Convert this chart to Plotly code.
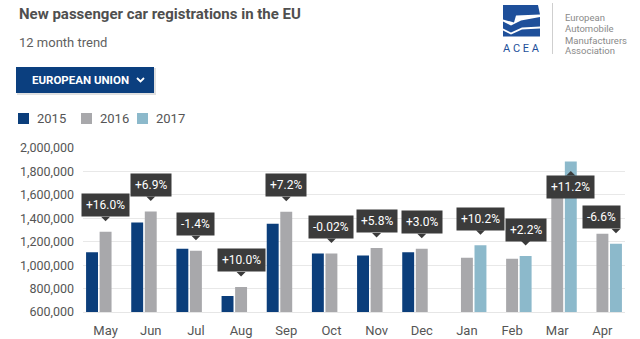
import plotly.graph_objects as go

# ---------------- data ----------------
months = ["May", "Jun", "Jul", "Aug", "Sep", "Oct", "Nov", "Dec", "Jan", "Feb", "Mar", "Apr"]
y2015 = [1109000, 1363000, 1140000, 737000, 1354000, 1100000, 1083000, 1109000, None, None, None, None]
y2016 = [1285000, 1457000, 1123000, 814000, 1455000, 1100000, 1147000, 1141000, 1063000, 1054000, 1695000, 1268000]
y2017 = [None, None, None, None, None, None, None, None, 1170000, 1077000, 1885000, 1183000]
changes = ["+16.0%", "+6.9%", "-1.4%", "+10.0%", "+7.2%", "-0.02%", "+5.8%", "+3.0%",
           "+10.2%", "+2.2%", "+11.2%", "-6.6%"]
series_names = ["2015", "2016", "2017"]
series_colors = ["#0b3e7b", "#a8a8ab", "#8cb9cb"]
y_ticks = [600000, 800000, 1000000, 1200000, 1400000, 1600000, 1800000, 2000000]

# ---------------- layout geometry (pixels) ----------------
FW, FH = 640, 339
L, R, T, B = 83, 625, 148, 312
W, H = R - L, B - T
BARGAP, GROUPGAP = 0.1, 0.12
FONT = "Roboto"
TIP = "#3b3b3b"


def px(x):
    return (x - L) / W


def py(y):
    return (B - y) / H


def ppath(points, close=True):
    s = "M" + " L".join(f"{px(x):.5f},{py(y):.5f}" for x, y in points)
    return s + (" Z" if close else "")


fig = go.Figure()
series = [y2015, y2016, y2017]
xs = list(range(len(months)))
for name, vals, col in zip(series_names, series, series_colors):
    fig.add_trace(go.Bar(x=xs, y=vals, name=name, marker=dict(color=col, line=dict(width=0)),
                         showlegend=False, hoverinfo="skip"))

shapes = []
annotations = []

# ---------------- tooltips on the latest-year bar ----------------
slot = (1 - BARGAP) / 3
unit_px = W / len(months)
for i, m in enumerate(months):
    k = 2 if y2017[i] is not None else 1
    v = series[k][i]
    xb = i + (k - 1) * slot
    xb_px = L + (xb + 0.5) * unit_px
    est_w = len(changes[i]) * 6.7 + 9
    flip = (v - 600000) / 1400000 * H + 11 + 3.5 + 21 > H
    xshift = 0
    if xb_px + est_w / 2 > R - 2:
        xshift = (R - 2) - (xb_px + est_w / 2)
    if not flip:
        annotations.append(dict(x=xb, y=v, xref="x", yref="y", text=changes[i], showarrow=False,
                                yanchor="bottom", xanchor="center", yshift=14.5, xshift=xshift,
                                bgcolor=TIP, borderpad=4,
                                font=dict(family=FONT, size=12, color="#ffffff")))
        shapes.append(dict(type="path", xref="x", yref="y", xsizemode="pixel", ysizemode="pixel",
                           xanchor=xb, yanchor=v, path="M-4.5,15 L4.5,15 L0,10.5 Z",
                           fillcolor=TIP, line=dict(width=0), layer="above"))
    else:
        annotations.append(dict(x=xb, y=v, xref="x", yref="y", text=changes[i], showarrow=False,
                                yanchor="top", xanchor="center", yshift=-13.5, xshift=xshift,
                                bgcolor=TIP, borderpad=4,
                                font=dict(family=FONT, size=12, color="#ffffff")))
        shapes.append(dict(type="path", xref="x", yref="y", xsizemode="pixel", ysizemode="pixel",
                           xanchor=xb, yanchor=v, path="M-4.5,-14 L4.5,-14 L0,-9.5 Z",
                           fillcolor=TIP, line=dict(width=0), layer="above"))

# ---------------- header ----------------
annotations.append(dict(x=px(17), y=py(14), xref="paper", yref="paper", xanchor="left", yanchor="middle",
                        text="<b>New passenger car registrations in the EU</b>", showarrow=False,
                        font=dict(family=FONT, size=15, color="#4f4f4f")))
annotations.append(dict(x=px(17), y=py(42), xref="paper", yref="paper", xanchor="left", yanchor="middle",
                        text="12 month trend", showarrow=False,
                        font=dict(family=FONT, size=13, color="#5f5f5f")))

# dropdown button
shapes.append(dict(type="rect", xref="paper", yref="paper", x0=px(17), x1=px(156), y0=py(95), y1=py(68),
                   fillcolor="rgba(0,0,0,0.12)", line=dict(width=0)))
shapes.append(dict(type="rect", xref="paper", yref="paper", x0=px(16), x1=px(154), y0=py(93), y1=py(67),
                   fillcolor="#0b3f7f", line=dict(width=0)))
annotations.append(dict(x=px(30), y=py(80), xref="paper", yref="paper", xanchor="left", yanchor="middle",
                        text="<b>EUROPEAN UNION</b>", showarrow=False,
                        font=dict(family=FONT, size=11.5, color="#ffffff")))
shapes.append(dict(type="path", xref="paper", yref="paper",
                   path=ppath([(137, 78), (140.5, 81.5), (144, 78)], close=False),
                   line=dict(color="#ffffff", width=1.8)))

# custom legend
leg_x = [18, 81, 137]
for name, col, x0 in zip(series_names, series_colors, leg_x):
    shapes.append(dict(type="rect", xref="paper", yref="paper", x0=px(x0), x1=px(x0 + 11),
                       y0=py(124), y1=py(113), fillcolor=col, line=dict(width=0)))
    annotations.append(dict(x=px(x0 + 17), y=py(118.5), xref="paper", yref="paper", xanchor="left",
                            yanchor="middle", text=name, showarrow=False,
                            font=dict(family=FONT, size=13, color="#555555")))

# ---------------- ACEA logo ----------------
blue = "#1e4f9a"
shapes.append(dict(type="path", xref="paper", yref="paper",
                   path=ppath([(503, 5), (538, 5), (540, 14.5), (516, 15.5), (514, 22.5), (503, 19.5)]),
                   fillcolor=blue, line=dict(width=0)))
shapes.append(dict(type="path", xref="paper", yref="paper",
                   path=ppath([(503, 21.5), (511, 25.5), (521, 20.5), (540, 17), (540, 26.5), (522, 27.5),
                               (511, 32.5), (503, 28.5)]),
                   fillcolor=blue, line=dict(width=0)))
shapes.append(dict(type="path", xref="paper", yref="paper",
                   path=ppath([(503, 30.5), (511, 34.5), (522, 29.5), (540, 28.5), (540, 36.5), (503, 36.5)]),
                   fillcolor=blue, line=dict(width=0)))
annotations.append(dict(x=px(521.5), y=py(48.5), xref="paper", yref="paper", xanchor="center",
                        yanchor="middle", text="A C E A", showarrow=False,
                        font=dict(family=FONT, size=11, color=blue)))
shapes.append(dict(type="line", xref="paper", yref="paper", x0=px(552.5), x1=px(552.5), y0=py(3), y1=py(54),
                   line=dict(color="#cfcfcf", width=1)))
for txt, yy in zip(["European", "Automobile", "Manufacturers", "Association"], [17, 28.5, 40, 51]):
    annotations.append(dict(x=px(563), y=py(yy), xref="paper", yref="paper", xanchor="left",
                            yanchor="middle", text=txt, showarrow=False,
                            font=dict(family=FONT, size=9.5, color="#8a8a8a")))

fig.update_layout(
    width=FW, height=FH,
    margin=dict(l=L, r=FW - R, t=T, b=FH - B, pad=0, autoexpand=False),
    paper_bgcolor="#ffffff", plot_bgcolor="#ffffff",
    barmode="group", bargap=BARGAP, bargroupgap=GROUPGAP,
    showlegend=False,
    shapes=shapes, annotations=annotations,
    font=dict(family=FONT),
)
fig.update_xaxes(range=[-0.5, len(months) - 0.5], tickvals=xs, ticktext=months, showgrid=False,
                 zeroline=False, showline=True, linecolor="#e6e6e6", linewidth=1, ticks="",
                 automargin=False,
                 tickfont=dict(family=FONT, size=13, color="#555555"), ticklabelstandoff=6)
fig.update_yaxes(range=[600000, 2000000], tickvals=y_ticks, tickformat=",", showgrid=True,
                 gridcolor="#e8e8e8", gridwidth=1, zeroline=False, ticks="", automargin=False,
                 tickfont=dict(family=FONT, size=12.5, color="#555555"), ticklabelstandoff=8)

fig.write_html("out.html")
